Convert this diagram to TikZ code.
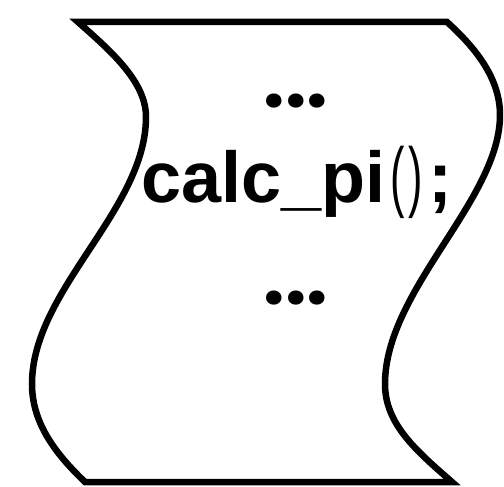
\documentclass[tikz,border=0pt]{standalone}
\usepackage{fontspec}
\usepackage{graphicx}
\setmainfont{Liberation Sans}
\newfontfamily\dotfont{Poppins}
\tikzset{
  outline/.style={draw=black, line width=6.5pt, line join=miter, fill=white},
  codetext/.style={font=\fontsize{72}{80}\selectfont\bfseries, inner sep=0pt, anchor=base},
  dottext/.style={font=\fontsize{76}{80}\selectfont\dotfont\bfseries, inner sep=0pt, anchor=base},
}
\newcommand{\thinpar}[1]{\scalebox{0.6}[1.08]{\mdseries #1}}
\begin{document}
\begin{tikzpicture}[x=1pt,y=-1pt]
\useasboundingbox (0,0) rectangle (504,487);
\coordinate (tl) at (78,22);
\coordinate (tr) at (447,22);
\coordinate (br) at (452,482);
\coordinate (bl) at (85,482);
\path[outline] (tl) -- (tr)
  .. controls (478,50) and (500,80) .. (500,115)
  .. controls (500,200) and (385,290) .. (385,384)
  .. controls (385,425) and (418,452) .. (br)
  -- (bl)
  .. controls (58,456) and (32,425) .. (32,384)
  .. controls (32,290) and (146,210) .. (146,117)
  .. controls (146,82) and (112,52) .. cycle;
\node[dottext] (dots1) at (296,107) {...};
\node[codetext] (code) at (297,202) {calc\_pi\kern5pt\thinpar{(}\kern4pt\thinpar{)}\kern6pt;};
\node[dottext] (dots2) at (296,304) {...};
\end{tikzpicture}
\end{document}
